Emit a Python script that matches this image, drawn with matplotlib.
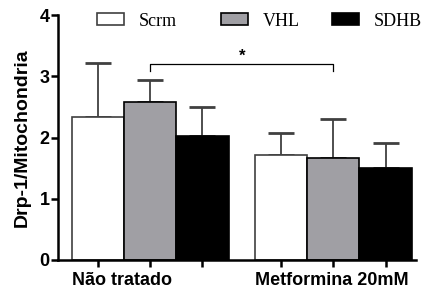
import numpy as np
import matplotlib
matplotlib.use("Agg")
import matplotlib.pyplot as plt

groups = ["Não tratado", "Metformina 20mM"]
series = ["Scrm", "VHL", "SDHB"]
means = {
    "Scrm": [2.33, 1.71],
    "VHL": [2.585, 1.66],
    "SDHB": [2.02, 1.50],
}
errs = {
    "Scrm": [0.88, 0.37],
    "VHL": [0.355, 0.64],
    "SDHB": [0.47, 0.41],
}
ytick_vals = [0, 1, 2, 3, 4]

faces = {"Scrm": "white", "VHL": "#a09fa4", "SDHB": "black"}
edges = {"Scrm": "#404040", "VHL": "black", "SDHB": "black"}
legend_x = {"Scrm": 97, "VHL": 221, "SDHB": 332}  # pixel positions of legend patches

plt.rcParams["font.family"] = ["Liberation Sans", "DejaVu Sans"]

fig = plt.figure(figsize=(4.21, 2.89), dpi=100)
ax = fig.add_axes([58 / 421, 29 / 289, (416 - 58) / 421, 245 / 289])

group_start = np.array([0.0, 3.5])
handles = []
for i, s in enumerate(series):
    x = group_start + i
    b = ax.bar(x, means[s], width=1.0, color=faces[s], edgecolor=edges[s],
               linewidth=1.2, label=s, zorder=2)
    handles.append(b)
    ax.errorbar(x, means[s], yerr=[np.zeros(len(x)), errs[s]], fmt="none",
                ecolor="#404040", elinewidth=1.3, capsize=9.5, capthick=2, zorder=1)

# significance bracket VHL vs VHL
x1, x2 = group_start[0] + 1, group_start[1] + 1
ax.plot([x1, x1, x2, x2], [3.08, 3.2, 3.2, 3.08], color="black", lw=0.9)
ax.text((x1 + x2) / 2, 3.2, "*", ha="center", va="bottom", fontsize=12, fontweight="bold")

ax.set_xlim(-0.76, 6.08)
ax.set_ylim(0, 4)
ax.set_yticks(ytick_vals)
ax.set_yticklabels([str(v) for v in ytick_vals], fontsize=13, fontweight="bold")
ax.set_xticks(np.concatenate([group_start + i for i in range(3)]))
ax.set_xticklabels([])
ax.tick_params(axis="both", length=5, width=1.8, pad=1)
for sp in ["top", "right"]:
    ax.spines[sp].set_visible(False)
for sp in ["left", "bottom"]:
    ax.spines[sp].set_linewidth(1.8)

for g, name in zip(group_start, groups):
    ax.text(g - 0.5, -0.102, name, transform=ax.get_xaxis_transform(),
            ha="left", va="baseline", fontsize=13, fontweight="bold")

ax.set_ylabel("Drp-1/Mitochondria", fontsize=14, fontweight="bold", labelpad=6)

for h, s in zip(handles, series):
    fig.legend(handles=[h], labels=[s], loc="center left",
               bbox_to_anchor=(legend_x[s] / 421, 1 - 21 / 289), frameon=False,
               prop={"family": "Liberation Serif", "size": 13},
               handlelength=1.5, handleheight=0.6, handletextpad=0.8,
               borderpad=0, borderaxespad=0)

fig.savefig("out.png", dpi=100)
